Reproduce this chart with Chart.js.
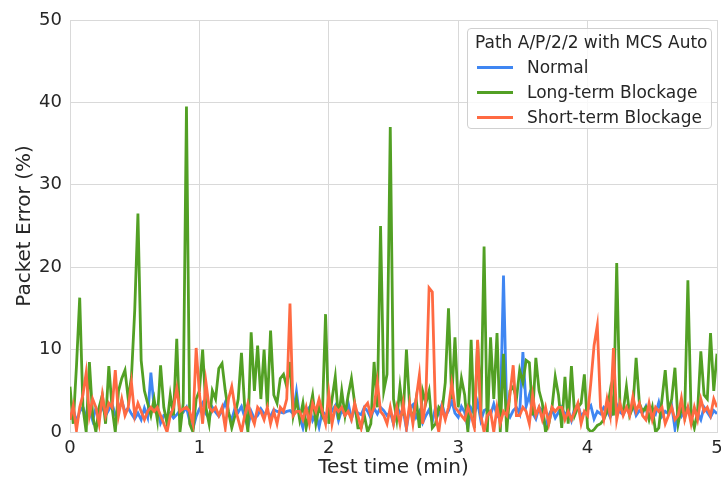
<!DOCTYPE html>
<html lang="en">
<head>
    <meta charset="UTF-8">
    <title>Packet Error - Path A/P/2/2</title>
    <script src="https://cdn.jsdelivr.net/npm/chart.js"></script>
    <style>
        html, body {
            margin: 0;
            padding: 0;
            background: #fff;
            overflow: hidden;
        }
        .wrap {
            position: relative;
            width: 721px;
            height: 480px;
            overflow: hidden;
        }
        #errChart {
            position: absolute;
            left: 0;
            top: 0;
        }
        .legend-box {
            position: absolute;
            left: 467px;
            top: 28px;
            width: 245px;
            height: 101px;
            box-sizing: border-box;
            border: 1px solid #d0d0d0;
            border-radius: 4px;
            background: rgba(255, 255, 255, 0.8);
            font-family: "DejaVu Sans", sans-serif;
            font-size: 17px;
            color: #262626;
        }
        .legend-title {
            position: absolute;
            left: 7px;
            top: 3px;
            white-space: nowrap;
        }
        .legend-item {
            position: absolute;
            left: 9px;
            height: 20px;
            line-height: 20px;
            white-space: nowrap;
        }
        .legend-item .swatch {
            display: inline-block;
            width: 36px;
            height: 3px;
            vertical-align: middle;
            margin-right: 14px;
            position: relative;
            top: -1px;
        }
    </style>
</head>
<body>
<div class="wrap">
    <canvas id="errChart" width="735" height="480"></canvas>
    <div class="legend-box" id="legend">
        <div class="legend-title">Path A/P/2/2 with MCS Auto</div>
    </div>
</div>

<script>
    // sampling step of the test log, in minutes
    const stepMin = 0.025;

    const xTicks = [0, 1, 2, 3, 4, 5];
    const yTicks = [0, 10, 20, 30, 40, 50];

    const seriesNames = ['Normal', 'Long-term Blockage', 'Short-term Blockage'];
    const seriesColors = ['#3f86f2', '#52a024', '#ff6a42'];

    const normal = [
        1.5, 2.8, 1.2, 2.5, 3.0, 1.8, 2.6, 1.4, 2.9, 2.2,
        3.1, 2.0, 2.7, 3.4, 2.1, 2.6, 3.8, 2.4, 2.9, 2.2,
        1.6, 2.3, 1.5, 2.9, 1.8, 7.2, 3.0, 3.2, 1.1, 2.0,
        1.9, 2.3, 1.7, 2.1, 2.6, 2.4, 3.0, 1.3, 0.4, 1.9,
        2.8, 3.5, 2.2, 1.7, 3.0, 2.4, 1.9, 2.6, 3.6, 2.2,
        1.5, 2.9, 2.4, 3.1, 1.8, 0.6, 2.5, 1.6, 2.0, 2.8,
        2.2, 2.4, 1.9, 2.7, 2.5, 2.4, 2.3, 2.5, 2.6, 2.2,
        4.9, 1.8, 0.5, 2.6, 3.0, 1.4, 2.2, 0.6, 2.5, 2.1,
        1.8, 2.6, 3.2, 1.4, 2.7, 2.0, 3.5, 1.6, 2.8, 2.3,
        2.1, 3.0, 2.5, 1.7, 2.9, 2.2, 3.0, 2.6, 2.0, 2.4,
        1.0, 3.1, 2.3, 2.6, 0.4, 2.9, 3.3, 1.8, 2.5, 1.1,
        2.0, 2.7, 1.3, 3.0, 2.2, 3.4, 1.9, 2.6, 3.8, 2.3,
        1.8, 3.1, 2.4, 0.5, 2.9, 2.2, 3.6, 1.4, 2.6, 2.8,
        2.1, 3.4, 2.0, 1.6, 19.0, 2.4, 1.8, 2.6, 3.0, 2.2,
        9.7, 3.1, 4.5, 2.3, 1.6, 3.0, 2.6, 0.5, 2.0, 2.8,
        1.7, 2.4, 3.0, 2.1, 2.6, 1.4, 2.9, 3.3, 1.9, 2.4,
        2.7, 3.2, 1.6, 2.5, 2.2, 3.0, 2.6, 1.8, 2.7, 3.3,
        2.4, 2.1, 2.9, 2.5, 3.4, 2.0, 2.6, 2.3, 3.1, 1.7,
        2.8, 2.2, 3.6, 1.9, 2.5, 2.2, 3.2, 0.4, 2.7, 1.9,
        2.6, 3.0, 1.6, 2.8, 2.3, 1.5, 3.0, 2.4, 1.8, 2.6,
        2.2
    ];

    const longTerm = [
        5.5, 1.0, 8.0, 16.3, 3.0, 0.0, 8.5, 2.0, 0.0, 3.0,
        4.5, 1.0, 8.0, 3.0, 0.0, 5.0, 6.5, 7.5, 4.0, 6.7,
        14.7, 26.5, 8.7, 5.0, 3.5, 2.0, 4.0, 1.5, 8.1, 3.0,
        1.0, 4.5, 2.0, 11.3, 0.0, 3.5, 39.5, 1.0, 0.0, 4.0,
        5.0, 10.0, 3.0, 1.0, 5.0, 4.0, 7.7, 8.3, 5.0, 2.5,
        0.5, 2.0, 4.0, 9.6, 3.0, 0.0, 12.1, 5.0, 10.5, 4.0,
        10.0, 3.0, 12.3, 4.5, 3.5, 6.5, 7.0, 5.5, 8.5, 2.0,
        4.0, 1.5, 3.5, 0.5, 2.5, 4.5, 1.0, 3.0, 2.0, 14.3,
        1.0, 4.0, 6.7, 1.5, 5.0, 2.0, 4.5, 6.5, 3.5, 0.5,
        0.5, 2.0, 0.0, 1.0, 8.5, 3.0, 25.0, 5.0, 7.0, 37.0,
        4.0, 1.5, 5.5, 2.0, 10.0, 3.0, 1.5, 4.0, 0.5, 5.0,
        3.5, 5.0, 0.5, 1.0, 3.0, 2.5, 6.0, 15.0, 4.0, 11.5,
        3.0, 6.5, 4.5, 0.0, 11.2, 0.5, 11.0, 2.0, 22.5, 0.0,
        11.5, 4.0, 12.0, 0.0, 9.5, 0.0, 5.0, 5.5, 4.0, 7.5,
        6.0, 8.7, 8.4, 2.0, 9.0, 5.0, 3.5, 0.0, 1.0, 3.0,
        6.7, 4.5, 0.5, 6.7, 1.0, 8.0, 2.0, 3.0, 3.5, 7.0,
        0.5, 0.0, 0.3, 0.8, 1.0, 1.5, 2.5, 5.0, 2.0, 20.5,
        3.0, 2.5, 5.5, 2.0, 3.0, 9.0, 3.5, 2.5, 3.0, 1.5,
        3.0, 0.0, 0.5, 4.0, 7.5, 2.5, 4.0, 7.8, 1.0, 3.0,
        2.0, 18.4, 2.0, 0.5, 2.5, 9.8, 4.5, 4.0, 12.0, 5.0,
        9.5
    ];

    const shortTerm = [
        1.5, 3.2, 0.2, 3.0, 4.5, 7.2, 2.0, 4.0, 3.0, 1.0,
        4.5, 2.0, 3.5, 3.0, 7.5, 2.0, 4.0, 2.0, 3.0, 6.0,
        2.0, 3.5, 2.5, 1.5, 2.5, 3.0, 2.5, 3.0, 2.0, 1.0,
        0.0, 2.0, 3.0, 5.3, 2.5, 2.8, 3.0, 2.5, 1.0, 10.2,
        4.7, 1.0, 6.1, 3.0, 2.5, 3.0, 2.0, 3.0, 0.5, 4.0,
        5.5, 3.0, 1.5, 0.0, 2.0, 3.5, 2.0, 1.0, 3.0, 2.5,
        1.5, 3.0, 1.0, 2.5, 1.0, 3.0, 2.5, 4.0, 15.6, 2.0,
        2.5, 2.5, 1.5, 3.0, 1.0, 3.5, 2.5, 4.0, 2.5, 1.0,
        4.7, 1.0, 3.0, 2.5, 3.0, 2.0, 2.5, 1.5, 3.5, 2.0,
        0.5, 3.0, 3.5, 2.0, 3.0, 6.1, 2.5, 2.0, 1.0, 3.0,
        1.0, 3.0, 1.0, 3.5, 0.5, 3.5, 1.0, 4.0, 6.9, 1.0,
        4.0, 17.5, 17.0, 2.0, 0.0, 3.0, 1.5, 3.0, 5.9, 3.0,
        2.5, 2.0, 1.5, 3.0, 2.0, 0.5, 11.2, 2.0, 0.0, 2.0,
        2.5, 0.0, 3.0, 1.0, 2.5, 2.0, 4.5, 8.1, 2.0, 2.0,
        3.0, 2.5, 1.0, 4.5, 2.0, 3.0, 1.5, 3.0, 1.0, 3.0,
        2.5, 3.0, 3.0, 1.5, 2.5, 1.5, 2.5, 3.5, 1.0, 2.5,
        2.0, 6.0, 10.5, 12.9, 3.0, 1.5, 4.0, 2.0, 10.2, 1.5,
        3.5, 2.0, 3.0, 2.0, 4.3, 2.5, 3.5, 2.0, 1.5, 3.5,
        1.5, 3.0, 2.5, 3.0, 1.0, 2.0, 3.0, 1.5, 2.0, 4.1,
        1.5, 3.0, 1.0, 3.0, 1.5, 4.0, 2.5, 3.0, 2.0, 4.0,
        3.0
    ];

    const seriesValues = [normal, longTerm, shortTerm];

    function toPoints(values) {
        return values.map((v, i) => ({ x: i * stepMin, y: v }));
    }

    // html legend placed inside the plot, top right
    const legendEl = document.getElementById('legend');
    seriesNames.forEach((name, i) => {
        const item = document.createElement('div');
        item.className = 'legend-item';
        item.style.top = (28 + i * 25) + 'px';
        item.innerHTML = '<span class="swatch" style="background:' + seriesColors[i] + '"></span>' + name;
        legendEl.appendChild(item);
    });

    const tickFont = { family: 'DejaVu Sans', size: 18 };
    const titleFont = { family: 'DejaVu Sans', size: 20 };
    const gridColor = '#d9d9d9';

    const ctx = document.getElementById('errChart').getContext('2d');
    new Chart(ctx, {
        type: 'line',
        data: {
            datasets: seriesNames.map((name, i) => ({
                label: name,
                data: toPoints(seriesValues[i]),
                borderColor: seriesColors[i],
                backgroundColor: seriesColors[i],
                borderWidth: 2.8,
                pointRadius: 0,
                tension: 0,
                order: 3 - i
            }))
        },
        options: {
            responsive: false,
            animation: false,
            layout: {
                padding: { left: 0, right: 18, top: 20, bottom: 0 }
            },
            plugins: {
                legend: { display: false },
                tooltip: { enabled: false }
            },
            scales: {
                x: {
                    type: 'linear',
                    min: 0,
                    max: 5,
                    afterBuildTicks: function(scale) {
                        scale.ticks = xTicks.map(v => ({ value: v }));
                    },
                    afterFit: function(scale) {
                        scale.height = 48;
                    },
                    grid: { color: gridColor, drawTicks: false },
                    border: { color: gridColor },
                    ticks: {
                        font: tickFont,
                        color: '#262626',
                        padding: 6,
                        maxRotation: 0
                    },
                    title: {
                        display: true,
                        text: 'Test time (min)',
                        font: titleFont,
                        color: '#262626',
                        padding: { top: 0, bottom: 0 }
                    }
                },
                y: {
                    min: 0,
                    max: 50,
                    afterBuildTicks: function(scale) {
                        scale.ticks = yTicks.map(v => ({ value: v }));
                    },
                    afterFit: function(scale) {
                        scale.width = 70;
                    },
                    grid: { color: gridColor, drawTicks: false },
                    border: { color: gridColor },
                    ticks: {
                        font: tickFont,
                        color: '#262626',
                        padding: 8
                    },
                    title: {
                        display: true,
                        text: 'Packet Error (%)',
                        font: titleFont,
                        color: '#262626',
                        padding: { top: 13, bottom: 0 }
                    }
                }
            }
        }
    });
</script>
</body>
</html>
